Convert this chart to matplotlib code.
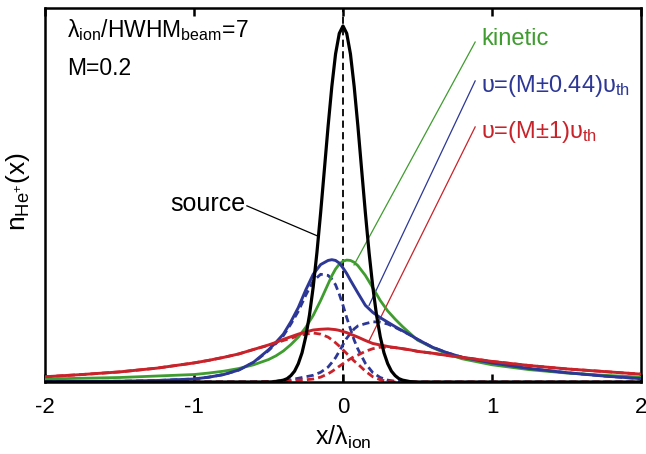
import numpy as np
import matplotlib
matplotlib.use("Agg")
import matplotlib.pyplot as plt

plt.rcParams["font.family"] = ["Liberation Sans", "DejaVu Sans"]
plt.rcParams["mathtext.fontset"] = "custom"
plt.rcParams["mathtext.rm"] = "Liberation Sans"
plt.rcParams["mathtext.it"] = "Liberation Sans"
plt.rcParams["mathtext.default"] = "regular"
plt.rcParams["axes.unicode_minus"] = False

# profiles along x / lambda_ion (density in arbitrary units, peak of source ~0.95)
x = [-2.0, -1.75, -1.5, -1.25, -1.0, -0.9, -0.8, -0.7, -0.6, -0.5, -0.45, -0.4,
     -0.35, -0.3, -0.25, -0.2, -0.15, -0.1, -0.075, -0.05, -0.025, 0.0, 0.025,
     0.05, 0.075, 0.1, 0.15, 0.2, 0.25, 0.3, 0.35, 0.4, 0.45, 0.5, 0.6, 0.7,
     0.8, 1.0, 1.25, 1.5, 1.75, 2.0]

kinetic = [0.008, 0.010, 0.012, 0.016, 0.020, 0.024, 0.029, 0.036, 0.046, 0.060,
           0.070, 0.083, 0.100, 0.120, 0.146, 0.178, 0.218, 0.262, 0.284, 0.302,
           0.315, 0.323, 0.326, 0.325, 0.320, 0.311, 0.285, 0.252, 0.218, 0.190,
           0.168, 0.148, 0.130, 0.112, 0.092, 0.075, 0.062, 0.046, 0.033, 0.024,
           0.018, 0.013]

# two-beam model, u = (M +- 0.44) u_th
blue_tot = [0.001, 0.0015, 0.002, 0.004, 0.008, 0.013, 0.020, 0.032, 0.053, 0.086,
            0.106, 0.128, 0.161, 0.199, 0.246, 0.288, 0.314, 0.325, 0.327, 0.325,
            0.318, 0.305, 0.290, 0.272, 0.255, 0.238, 0.205, 0.186, 0.172, 0.160,
            0.148, 0.137, 0.126, 0.114, 0.093, 0.078, 0.066, 0.051, 0.036, 0.025,
            0.016, 0.009]
blue_neg = [0.001, 0.0015, 0.002, 0.004, 0.008, 0.013, 0.020, 0.032, 0.052, 0.084,
            0.103, 0.124, 0.155, 0.189, 0.232, 0.270, 0.288, 0.285, 0.275, 0.260,
            0.235, 0.205, 0.172, 0.142, 0.112, 0.088, 0.050, 0.025, 0.012, 0.005,
            0.002, 0.001, 0.0, 0.0, 0.0, 0.0, 0.0, 0.0, 0.0, 0.0, 0.0, 0.0]
blue_pos = [0.0, 0.0, 0.0, 0.0, 0.0, 0.0, 0.0, 0.0, 0.0, 0.001, 0.002, 0.004,
            0.006, 0.010, 0.014, 0.018, 0.026, 0.040, 0.052, 0.065, 0.082, 0.100,
            0.117, 0.130, 0.142, 0.150, 0.156, 0.161, 0.160, 0.155, 0.146, 0.136,
            0.126, 0.114, 0.093, 0.078, 0.066, 0.051, 0.036, 0.025, 0.016, 0.009]

# two-beam model, u = (M +- 1) u_th
red_tot = [0.014, 0.020, 0.027, 0.037, 0.051, 0.058, 0.066, 0.075, 0.087, 0.099,
           0.106, 0.114, 0.121, 0.128, 0.134, 0.139, 0.141, 0.142, 0.141, 0.140,
           0.138, 0.135, 0.132, 0.128, 0.124, 0.120, 0.111, 0.103, 0.099, 0.095,
           0.092, 0.089, 0.086, 0.082, 0.077, 0.071, 0.066, 0.055, 0.044, 0.035,
           0.028, 0.021]
red_neg = [0.014, 0.020, 0.027, 0.037, 0.051, 0.058, 0.066, 0.075, 0.087, 0.098,
           0.104, 0.111, 0.117, 0.123, 0.128, 0.131, 0.128, 0.120, 0.113, 0.105,
           0.096, 0.086, 0.076, 0.066, 0.056, 0.048, 0.029, 0.014, 0.006, 0.002,
           0.0, 0.0, 0.0, 0.0, 0.0, 0.0, 0.0, 0.0, 0.0, 0.0, 0.0, 0.0]
red_pos = [0.0, 0.0, 0.0, 0.0, 0.0, 0.0, 0.0, 0.0, 0.0, 0.001, 0.002, 0.003,
           0.004, 0.005, 0.006, 0.008, 0.013, 0.022, 0.028, 0.035, 0.042, 0.049,
           0.056, 0.062, 0.068, 0.072, 0.082, 0.089, 0.093, 0.093, 0.092, 0.089,
           0.086, 0.082, 0.077, 0.071, 0.066, 0.055, 0.044, 0.035, 0.028, 0.021]

# neutral beam source profile
x_src = [-2.0, -0.5, -0.45, -0.4, -0.375, -0.35, -0.325, -0.3, -0.275, -0.25,
         -0.225, -0.2, -0.175, -0.15, -0.125, -0.1, -0.075, -0.05, -0.025, 0.0,
         0.025, 0.05, 0.075, 0.1, 0.125, 0.15, 0.175, 0.2, 0.225, 0.25, 0.275,
         0.3, 0.325, 0.35, 0.375, 0.4, 0.45, 0.5, 2.0]
source = [0.0, 0.0, 0.001, 0.005, 0.009, 0.017, 0.029, 0.049, 0.078, 0.121,
          0.179, 0.254, 0.346, 0.453, 0.568, 0.684, 0.790, 0.877, 0.932, 0.952,
          0.932, 0.877, 0.790, 0.684, 0.568, 0.453, 0.346, 0.254, 0.179, 0.121,
          0.078, 0.049, 0.029, 0.017, 0.009, 0.005, 0.001, 0.0, 0.0]

xticks = [-2, -1, 0, 1, 2]

green = "#3f9c2f"
blue = "#2c3796"
red = "#c8232a"

fig = plt.figure(figsize=(6.46, 4.54), dpi=100)
ax = fig.add_axes([45 / 646, 1 - 382 / 454, 596 / 646, 374 / 454])

ax.axvline(0, color="k", lw=1.3, dashes=(4.0, 2.4), zorder=1)

dash = (2.6, 1.5)
ax.plot(x, blue_neg, color=blue, lw=2.0, dashes=dash, zorder=2)
ax.plot(x, blue_pos, color=blue, lw=2.0, dashes=dash, zorder=2)
ax.plot(x, red_neg, color=red, lw=2.0, dashes=dash, zorder=2)
ax.plot(x, red_pos, color=red, lw=2.0, dashes=dash, zorder=2)

ax.plot(x, kinetic, color=green, lw=2.0, zorder=3)
ax.plot(x, blue_tot, color=blue, lw=2.1, zorder=3)
ax.plot(x, red_tot, color=red, lw=2.1, zorder=3)
ax.plot(x_src, source, color="k", lw=2.3, zorder=4)

# labels with leader lines
ax.plot([-0.645, -0.168], [0.471, 0.39], color="k", lw=0.9)
ax.text(-0.658, 0.458, "source", fontsize=18, ha="right", va="baseline")

ax.plot([0.887, 0.074], [0.909, 0.313], color=green, lw=0.9)
ax.text(0.928, 0.901, "kinetic", fontsize=17, color=green, va="baseline")

ax.plot([0.887, 0.175], [0.805, 0.205], color=blue, lw=0.9)
ax.text(0.928, 0.776, r"$υ$=(M±0.44)$υ_{th}$", fontsize=17, color=blue,
        va="baseline")

ax.plot([0.887, 0.175], [0.682, 0.11], color=red, lw=0.9)
ax.text(0.928, 0.652, r"$υ$=(M±1)$υ_{th}$", fontsize=17, color=red,
        va="baseline")

ax.text(-1.85, 0.922, r"$λ_{ion}$/HWHM$_{beam}$=7", fontsize=16.5,
        va="baseline")
ax.text(-1.85, 0.821, "M=0.2", fontsize=16.5, va="baseline")

ax.set_xlim(-2, 2)
ax.set_ylim(0, 1)
ax.set_xticks(xticks)
ax.set_xticklabels([str(t) for t in xticks], fontsize=16)
ax.set_yticks([])
ax.tick_params(axis="x", direction="in", length=6, width=1.8, top=True,
               pad=11)
for s in ax.spines.values():
    s.set_linewidth(1.8)

ax.set_xlabel(r"$x/λ_{ion}$", fontsize=18, labelpad=4)
ax.set_ylabel(r"$n_{He^{+}}(x)$", fontsize=19)
ax.yaxis.set_label_coords(-0.022, 0.51)

fig.savefig("out.png", dpi=100)
